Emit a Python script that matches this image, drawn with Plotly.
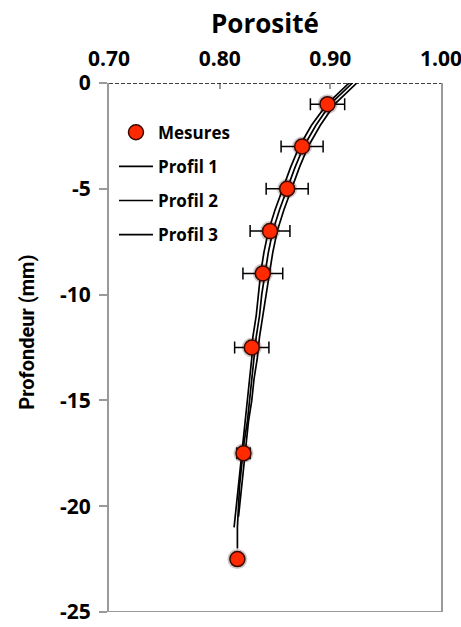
import plotly.graph_objects as go

# Measurements
mes_depth = [-1, -3, -5, -7, -9, -12.5, -17.5, -22.5]
mes_poro = [0.8975, 0.8745, 0.861, 0.8455, 0.839, 0.829, 0.8215, 0.816]
mes_err = [0.0155, 0.019, 0.019, 0.018, 0.018, 0.0155, 0.006, 0.0]

# Profiles
p1_depth = [0, -1, -2, -3, -4, -5, -6, -7, -8, -9, -10, -11, -12, -13, -14, -15, -16, -17, -18, -19, -20, -20.6, -21]
p1_poro = [0.917, 0.897, 0.883, 0.872, 0.864, 0.857, 0.850, 0.844, 0.840, 0.837, 0.835, 0.833, 0.830, 0.829, 0.827, 0.825, 0.823, 0.821, 0.819, 0.817, 0.815, 0.814, 0.813]
p2_depth = [0, -1, -2, -3, -4, -5, -6, -7, -8, -9, -10, -11, -12, -13, -14, -15, -16, -17, -18, -19, -20, -21, -22]
p2_poro = [0.920, 0.900, 0.887, 0.876, 0.868, 0.861, 0.854, 0.848, 0.844, 0.841, 0.838, 0.836, 0.833, 0.831, 0.829, 0.827, 0.825, 0.822, 0.820, 0.818, 0.817, 0.816, 0.816]
p3_depth = [0, -1, -2, -3, -4, -5, -6, -7, -8, -9, -10, -11, -12, -13, -14, -15, -16, -17, -18, -19, -20, -20.5]
p3_poro = [0.924, 0.904, 0.891, 0.880, 0.872, 0.865, 0.858, 0.852, 0.848, 0.845, 0.842, 0.839, 0.836, 0.834, 0.831, 0.829, 0.826, 0.824, 0.822, 0.820, 0.818, 0.817]

x_ticks = [0.70, 0.80, 0.90, 1.00]
x_ticktext = ["0.70", "0.80", "0.90", "1.00"]
y_ticks = [0, -5, -10, -15, -20, -25]
y_ticktext = ["0", "-5", "-10", "-15", "-20", "-25"]

FONT = "Open Sans"
GRAY = "#9a9a9a"

fig = go.Figure()
for i, (name, xs, ys) in enumerate([("Profil 1", p1_poro, p1_depth),
                                    ("Profil 2", p2_poro, p2_depth),
                                    ("Profil 3", p3_poro, p3_depth)]):
    fig.add_trace(go.Scatter(x=xs, y=ys, mode="lines", name=name,
                             legendgroup=name, legendrank=2 + i,
                             line=dict(color="black", width=1.7)))
# soft shadow under the measurement markers
fig.add_trace(go.Scatter(
    x=mes_poro, y=mes_depth, mode="markers", showlegend=False, hoverinfo="skip",
    marker=dict(color="rgba(40,0,0,0.22)", size=20, line=dict(width=0)),
))
fig.add_trace(go.Scatter(
    x=mes_poro, y=mes_depth, mode="markers", name="Mesures",
    legendgroup="Mesures", legendrank=1,
    marker=dict(color="#ff2a00", size=15, line=dict(color="#3a0800", width=1.5)),
    error_x=dict(type="data", array=mes_err, color="black", thickness=1.5, width=6),
))

fig.update_layout(
    width=461, height=627,
    margin=dict(l=109, r=20, t=83, b=15),
    paper_bgcolor="white", plot_bgcolor="white",
    font=dict(family=FONT, size=21, color="black", weight="bold"),
    showlegend=True,
    legend=dict(x=0.015, y=0.94, xanchor="left", yanchor="top",
                font=dict(size=17, family=FONT, weight="bold"),
                bgcolor="rgba(0,0,0,0)", traceorder="grouped", tracegroupgap=9,
                itemwidth=34),
    xaxis=dict(side="top", range=[0.6999, 1.0001], tickvals=x_ticks, ticktext=x_ticktext,
               ticks="inside", ticklen=6, tickcolor=GRAY, tickwidth=1.5,
               ticklabelstandoff=12, ticklabeloverflow="allow", automargin=False,
               showgrid=False, zeroline=False, showline=False,
               tickfont=dict(size=21, family=FONT, weight="bold")),
    yaxis=dict(range=[-25, 0], tickvals=y_ticks, ticktext=y_ticktext,
               ticks="outside", ticklen=8, ticklabelstandoff=4,
               ticklabeloverflow="allow", automargin=False,
               tickcolor=GRAY, tickwidth=1.5, showgrid=False, zeroline=False,
               showline=True, linecolor=GRAY, linewidth=2, mirror=True,
               tickfont=dict(size=21, family=FONT, weight="bold")),
    shapes=[
        dict(type="line", xref="paper", yref="y", x0=0, x1=1, y0=-25, y1=-25,
             line=dict(color=GRAY, width=2)),
        dict(type="line", xref="paper", yref="y", x0=0, x1=1, y0=0, y1=0,
             line=dict(color="black", width=1.3, dash="4px,2px")),
    ],
    annotations=[
        dict(text="Porosité", xref="paper", yref="paper", x=0.47, y=1.113,
             xanchor="center", yanchor="middle", showarrow=False,
             font=dict(size=26, family=FONT, weight="bold")),
        dict(text="Profondeur (mm)", xref="paper", yref="paper", x=-0.247, y=0.53,
             xanchor="center", yanchor="middle", showarrow=False, textangle=-90,
             font=dict(size=20, family="Roboto", weight="bold")),
    ],
)

fig.write_html("out.html")
